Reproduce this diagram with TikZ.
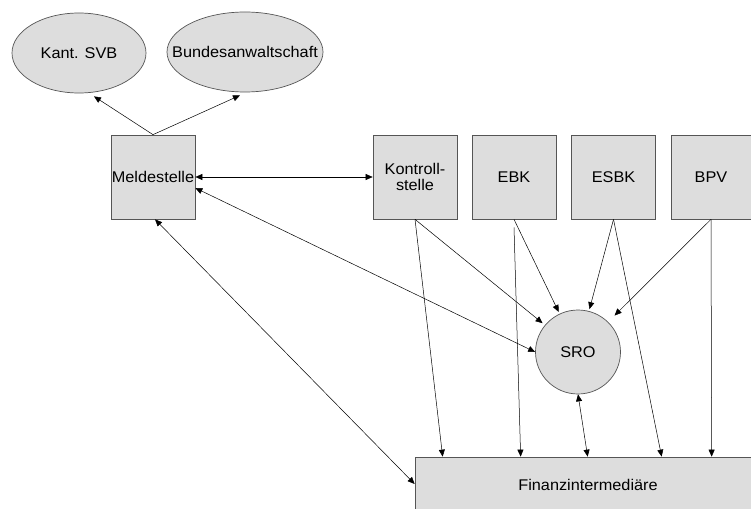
\documentclass[tikz,border=0pt]{standalone}
\usepackage{fontspec}
\setmainfont{Liberation Sans}[FakeStretch=1.05]
\usetikzlibrary{arrows.meta,shapes.geometric}
\definecolor{boxfill}{HTML}{DDDDDD}
\definecolor{boxline}{HTML}{555555}
\tikzset{
  every node/.style={font=\fontsize{15.5}{16}\selectfont},
  sqbox/.style={draw=boxline,fill=boxfill,line width=0.7pt,minimum width=84pt,minimum height=84pt,inner sep=0pt,align=center},
  oval/.style={ellipse,draw=boxline,fill=boxfill,line width=0.7pt,inner sep=0pt},
  conn/.style={draw=black,line width=0.5pt,-{Triangle[length=7pt,width=6pt]}},
  bconn/.style={draw=black,line width=0.5pt,{Triangle[length=7pt,width=6pt]}-{Triangle[length=7pt,width=6pt]}}
}
\begin{document}
\begin{tikzpicture}[x=1pt,y=-1pt]
\clip (0,0) rectangle (751,508);
\fill[white] (0,0) rectangle (751,508);
\node[oval,minimum width=134pt,minimum height=80pt] (kant) at (79,53) {\makebox[0pt]{Kant. SVB}};
\node[oval,minimum width=156pt,minimum height=80pt] (bund) at (245,52) {\makebox[0pt]{Bundesanwaltschaft}};
\node[sqbox] (meld) at (153,177) {\makebox[0pt]{Meldestelle}};
\node[sqbox] (kontr) at (415,177) {Kontroll-\\stelle};
\node[sqbox] (ebk) at (514,177) {EBK};
\node[sqbox] (esbk) at (613.5,177) {ESBK};
\node[sqbox,minimum width=80pt] (bpv) at (711,177) {BPV};
\node[oval,minimum width=85pt,minimum height=84pt] (sro) at (578,352) {SRO};
\node[draw=boxline,fill=boxfill,line width=0.7pt,minimum width=346pt,minimum height=56pt,inner sep=0pt] (fin) at (588,485) {Finanzintermediäre};

\draw[conn] (meld.north) -- ([xshift=15pt,yshift=-3pt]kant.south);
\draw[conn] (meld.north) -- ([xshift=-5pt,yshift=-3pt]bund.south);
\draw[bconn] (meld.east) -- (kontr.west);
\draw[bconn] ([yshift=-11pt]meld.east) -- (sro.west);
\draw[bconn] ([xshift=2pt]meld.south) -- ([yshift=1pt]fin.west);
\draw[conn,shorten >=3pt] (kontr.south) -- (sro);
\draw[conn] (kontr.south) -- ([xshift=28pt]fin.north west);
\draw[conn] ([yshift=-8pt]ebk.south) -- ([xshift=106pt]fin.north west);
\draw[conn,shorten >=2pt] (ebk.south) -- (sro);
\draw[conn,shorten >=2pt] (esbk.south) -- (sro);
\draw[conn] (esbk.south) -- ([xshift=247pt]fin.north west);
\draw[conn,shorten >=9pt] (bpv.south) -- (sro);
\draw[conn] (bpv.south) -- ([xshift=297pt]fin.north west);
\draw[bconn] (sro.south) -- ([xshift=173pt]fin.north west);
\end{tikzpicture}
\end{document}
